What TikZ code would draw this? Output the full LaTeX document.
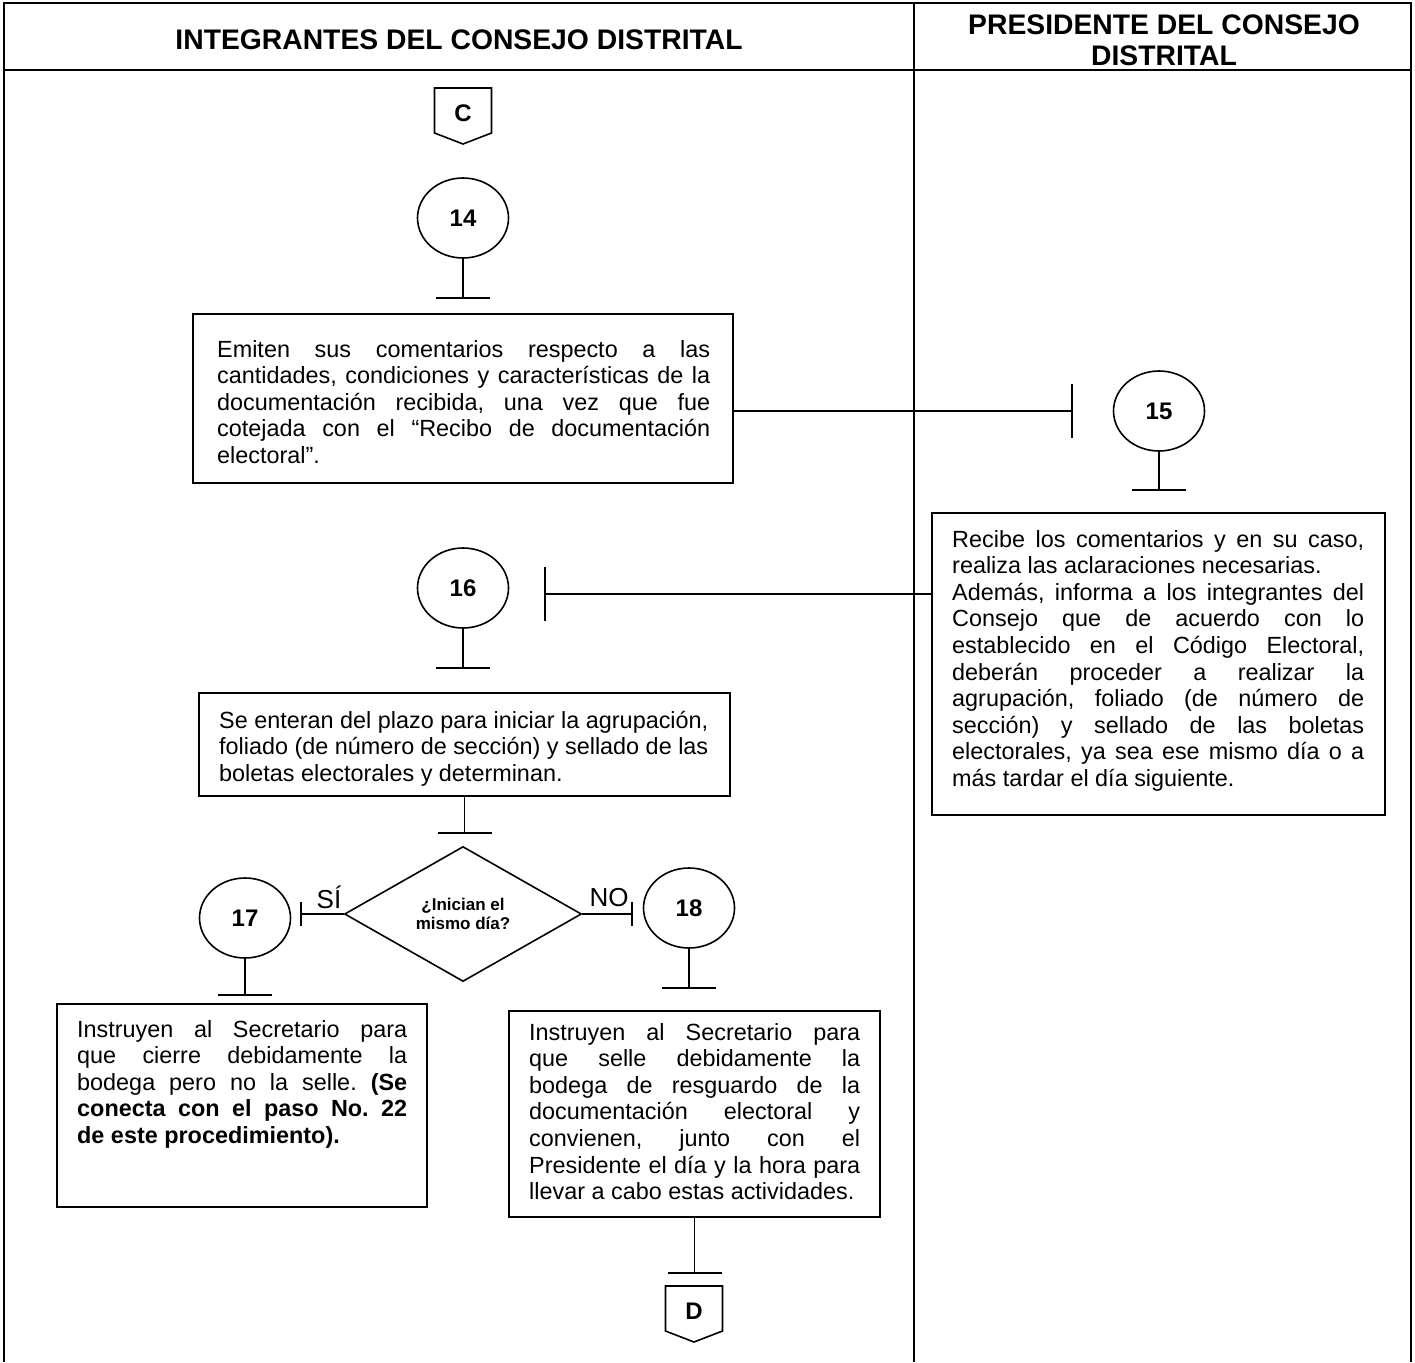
\documentclass[tikz,border=0pt]{standalone}
\usepackage{fontspec}
\setmainfont{Liberation Sans}
\usetikzlibrary{shapes.geometric}

% a block of lines of a given width: \JL stretches its spaces to the full width,
% \LL keeps the natural width (last line of a paragraph)
\newdimen\jwidth
\newcommand{\JL}[1]{\hbox to\jwidth{#1}}
\newcommand{\LL}[1]{\hbox{#1}}
\newcommand{\para}[2]{\jwidth=#1\relax\vtop{#2}}

\begin{document}
\begin{tikzpicture}[x=1pt,y=-1pt,
  frame/.style={line width=2.6pt},
  link/.style={line width=1.6pt},
  boxnode/.style={draw, rectangle, line width=2pt, inner sep=0pt},
  stepc/.style={draw, ellipse, line width=1.6pt, inner sep=0pt,
    minimum width=91pt, minimum height=80pt,
    font=\fontsize{24}{24}\selectfont\bfseries},
  body/.style={inner sep=0pt, anchor=base west,
    font=\fontsize{23.4}{26.6}\selectfont\frenchspacing},
  head/.style={font=\fontsize{28.3}{31}\selectfont\bfseries, align=center},
  conn/.style={font=\fontsize{24}{24}\selectfont\bfseries},
  pics/offpage/.style={code={
    \draw[link] (-28.5,-25) -- (28.5,-25) -- (28.5,20) -- (0,31) -- (-28.5,20) -- cycle;}}
]
\useasboundingbox (0,0) rectangle (1415,1362);

% swimlane frame
\draw[frame] (4,1362) -- (4,3) -- (1411,3) -- (1411,1362);
\draw[frame] (4,70) -- (1411,70);
\draw[frame] (914,3) -- (914,1362);

\node[head] (h1) at (459,40) {INTEGRANTES DEL CONSEJO DISTRITAL};
\node[head] (h2) at (1164,40) {PRESIDENTE DEL CONSEJO\\DISTRITAL};

% connector C
\node[conn] (cC) at (463,113) {C};
\pic at (cC) {offpage};

% step 14
\node[stepc] (c14) at (463,218) {14};
\coordinate (t14) at (463,298);
\draw[link] (c14.south) -- (t14);
\draw[link] ([xshift=-27pt]t14) -- ([xshift=27pt]t14);

\node[boxnode, minimum width=540pt, minimum height=169pt] (b14) at (463,398.5) {};
\node[body] (x14) at (217,357) {\para{493pt}{%
\JL{Emiten sus comentarios respecto a las}
\JL{cantidades, condiciones y características de la}
\JL{documentación recibida, una vez que fue}
\JL{cotejada con el “Recibo de documentación}
\LL{electoral”.}}};

% step 15
\node[stepc] (c15) at (1159,411) {15};
\coordinate (k15) at (1072,411);
\draw[link] (b14.east |- k15) -- (k15);
\draw[link] ([yshift=27pt]k15) -- ([yshift=-27pt]k15);
\coordinate (t15) at (1159,490);
\draw[link] (c15.south) -- (t15);
\draw[link] ([xshift=-27pt]t15) -- ([xshift=27pt]t15);

\node[boxnode, minimum width=453pt, minimum height=302pt] (b15) at (1158.5,664) {};
\node[body] (x15) at (952,547) {\para{412pt}{%
\JL{Recibe los comentarios y en su caso,}
\LL{realiza las aclaraciones necesarias.}
\JL{Además, informa a los integrantes del}
\JL{Consejo que de acuerdo con lo}
\JL{establecido en el Código Electoral,}
\JL{deberán proceder a realizar la}
\JL{agrupación, foliado (de número de}
\JL{sección) y sellado de las boletas}
\JL{electorales, ya sea ese mismo día o a}
\LL{más tardar el día siguiente.}}};

% step 16
\node[stepc] (c16) at (463,588) {16};
\coordinate (k16) at (545,594);
\draw[link] (b15.west |- k16) -- (k16);
\draw[link] ([yshift=27pt]k16) -- ([yshift=-27pt]k16);
\coordinate (t16) at (463,668);
\draw[link] (c16.south) -- (t16);
\draw[link] ([xshift=-27pt]t16) -- ([xshift=27pt]t16);

\node[boxnode, minimum width=531pt, minimum height=103pt] (b16) at (464.5,744.5) {};
\node[body] (x16) at (219,728) {\para{500pt}{%
\LL{Se enteran del plazo para iniciar la agrupación,}
\LL{foliado (de número de sección) y sellado de las}
\LL{boletas electorales y determinan.}}};

% decision
\coordinate (td) at (464.5,833);
\draw[link] (b16.south) -- (td);
\draw[link] ([xshift=-27pt]td) -- ([xshift=27pt]td);
\node[draw, diamond, line width=1.6pt, inner sep=0pt, aspect=1.75,
  minimum width=237pt, minimum height=135pt, align=center,
  font=\fontsize{17}{19.5}\selectfont\bfseries] (dd) at (463,914)
  {¿Inician el\\mismo día?};

% branch SÍ -> 17
\coordinate (ks) at (301,914);
\draw[link] (dd.west) -- (ks);
\draw[link] ([yshift=12pt]ks) -- ([yshift=-12pt]ks);
\node[font=\fontsize{26}{26}\selectfont] (ls) at (329,897) {SÍ};

\node[stepc] (c17) at (245,918) {17};
\coordinate (t17) at (245,995);
\draw[link] (c17.south) -- (t17);
\draw[link] ([xshift=-27pt]t17) -- ([xshift=27pt]t17);

\node[boxnode, minimum width=370pt, minimum height=203pt] (b17) at (242,1105.5) {};
\node[body] (x17) at (77,1037) {\para{330pt}{%
\JL{Instruyen al Secretario para}
\JL{que cierre debidamente la}
\JL{bodega pero no la selle. \textbf{(Se}}
\JL{\textbf{conecta con el paso No. 22}}
\LL{\textbf{de este procedimiento).}}}};

% branch NO -> 18
\coordinate (kn) at (632,914);
\draw[link] (dd.east) -- (kn);
\draw[link] ([yshift=12pt]kn) -- ([yshift=-12pt]kn);
\node[font=\fontsize{26}{26}\selectfont] (ln) at (609,898) {NO};

\node[stepc] (c18) at (689,908) {18};
\coordinate (t18) at (689,988);
\draw[link] (c18.south) -- (t18);
\draw[link] ([xshift=-27pt]t18) -- ([xshift=27pt]t18);

\node[boxnode, minimum width=371pt, minimum height=206pt] (b18) at (694.5,1114) {};
\node[body] (x18) at (529,1040) {\para{331pt}{%
\JL{Instruyen al Secretario para}
\JL{que selle debidamente la}
\JL{bodega de resguardo de la}
\JL{documentación electoral y}
\JL{convienen, junto con el}
\JL{Presidente el día y la hora para}
\LL{llevar a cabo estas actividades.}}};

% connector D
\coordinate (tD) at (694.5,1273);
\draw[link] (b18.south) -- (tD);
\draw[link] ([xshift=-27pt]tD) -- ([xshift=27pt]tD);
\node[conn] (cD) at (694,1311) {D};
\pic at (cD) {offpage};
\end{tikzpicture}
\end{document}
